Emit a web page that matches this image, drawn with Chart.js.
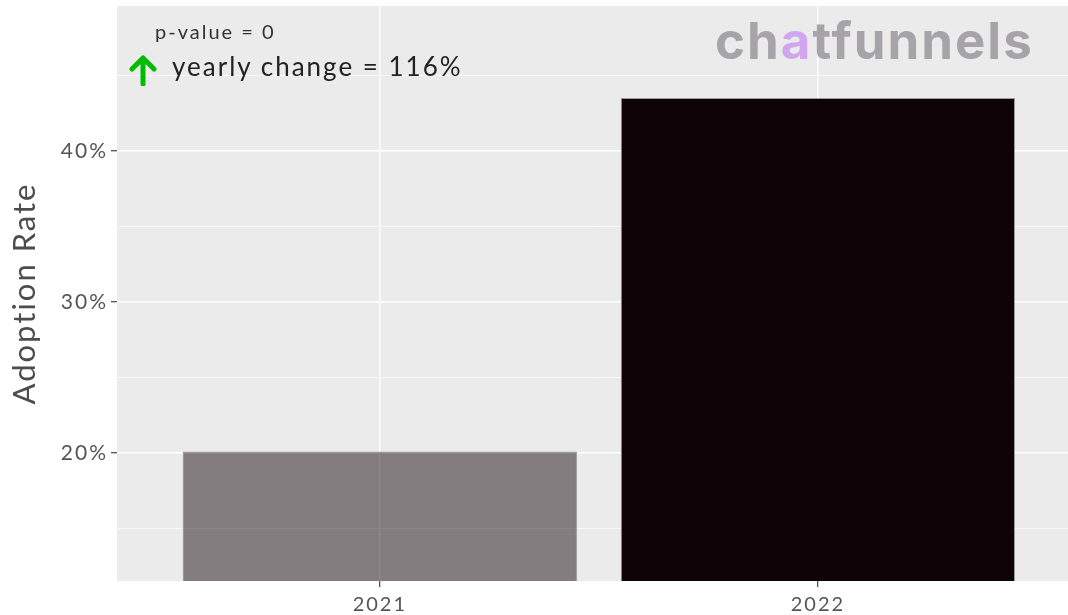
<!DOCTYPE html>
<html lang="en">
<head>
  <meta charset="UTF-8">
  <title>Adoption Rate</title>
  <script src="https://cdn.jsdelivr.net/npm/chart.js"></script>
  <style>
    html, body { margin: 0; padding: 0; background: white; overflow: hidden; }
    .wrap { position: relative; width: 1068px; height: 615px; }
    #chart { position: absolute; left: 0; top: 0; }
    .pval { position: absolute; left: 155px; top: 19px; font: 20px Lato, sans-serif; color: #333; letter-spacing: 2px; }
    .change { position: absolute; left: 172px; top: 50px; font: 26px Lato, sans-serif; color: #222; letter-spacing: 2px; }
    .arrow { position: absolute; left: 128px; top: 54px; }
    .logo { position: absolute; left: 715px; top: 10px; font: 700 51px Inter, sans-serif; color: #a6a4a8; letter-spacing: 2px; }
    .logo span { color: #cfa6ef; }
  </style>
</head>
<body>
  <div class="wrap">
    <canvas id="chart" width="1068" height="615"></canvas>
    <div class="pval">p-value = 0</div>
    <svg class="arrow" width="30" height="32" viewBox="0 0 30 32">
      <path d="M15 30 L15 4 M4 15 L15 4 L26 15" stroke="#00bb00" stroke-width="5" fill="none" stroke-linecap="round" stroke-linejoin="round"/>
    </svg>
    <div class="change">yearly change = 116%</div>
    <div class="logo">ch<span>a</span>tfunnels</div>
  </div>

  <script>
    const years = ['2021', '2022'];
    const rates = [20.1, 43.5];           // adoption rate, %
    const yMajorTicks = [20, 30, 40];
    const yMinorTicks = [15, 25, 35, 45];

    const barColors = ['rgba(16, 3, 7, 0.47)', '#100307'];

    // wider letter spacing for all canvas text (set again after any resize)
    const spacing = {
      id: 'spacing',
      beforeLayout(chart) { chart.ctx.letterSpacing = '2px'; },
      beforeDraw(chart) { chart.ctx.letterSpacing = '2px'; }
    };

    // grey panel behind the plotting area
    const panelBg = {
      id: 'panelBg',
      beforeDraw(chart) {
        const { ctx, chartArea: a } = chart;
        ctx.save();
        ctx.fillStyle = '#ebebeb';
        ctx.fillRect(a.left, a.top, a.right - a.left, a.bottom - a.top);
        ctx.restore();
      }
    };

    const tickFont = { family: 'Lato, sans-serif', size: 20 };

    new Chart(document.getElementById('chart'), {
      type: 'bar',
      data: {
        datasets: [{
          data: years.map((y, i) => ({ x: i + 1, y: rates[i] })),
          backgroundColor: barColors,
          borderColor: '#9c9a9b',
          borderWidth: 1,
          barPercentage: 0.9,
          categoryPercentage: 1
        }]
      },
      options: {
        responsive: false,
        animation: false,
        layout: { padding: { top: 6, left: 0, right: 0, bottom: 0 } },
        plugins: { legend: { display: false }, tooltip: { enabled: false } },
        scales: {
          x: {
            type: 'linear',
            min: 0.4,
            max: 2.571,
            offset: false,
            afterBuildTicks: s => { s.ticks = years.map((_, i) => ({ value: i + 1 })); },
            afterFit: s => { s.height = 34; s.paddingLeft = 0; s.paddingRight = 0; },
            border: { display: false },
            grid: { color: '#ffffff', lineWidth: 1.4, offset: false, tickLength: 6, tickColor: '#444', tickWidth: 1.2 },
            ticks: {
              font: tickFont, color: '#555', padding: 6, maxRotation: 0,
              callback: v => years[v - 1] || ''
            }
          },
          y: {
            min: 11.52,
            max: 49.6,
            afterBuildTicks: s => {
              s.ticks = [...yMinorTicks, ...yMajorTicks].sort((a, b) => a - b).map(v => ({ value: v }));
            },
            afterFit: s => { s.width = 117; s.paddingTop = 0; s.paddingBottom = 0; },
            border: { display: false },
            grid: {
              color: '#ffffff',
              lineWidth: c => yMajorTicks.includes(c.tick && c.tick.value) ? 1.4 : 0.7,
              tickLength: 6,
              tickWidth: 1.2,
              tickColor: c => yMajorTicks.includes(c.tick && c.tick.value) ? '#444' : 'rgba(0,0,0,0)'
            },
            ticks: {
              font: { family: 'Lato, sans-serif', size: 21 }, color: '#555', padding: 3,
              callback: v => yMajorTicks.includes(v) ? v + '%' : ''
            },
            title: {
              display: true,
              text: 'Adoption Rate',
              color: '#4d4d4d',
              font: { family: 'Lato, sans-serif', size: 31 },
              padding: { top: 6, bottom: 0 }
            }
          }
        }
      },
      plugins: [spacing, panelBg]
    });
  </script>
</body>
</html>
